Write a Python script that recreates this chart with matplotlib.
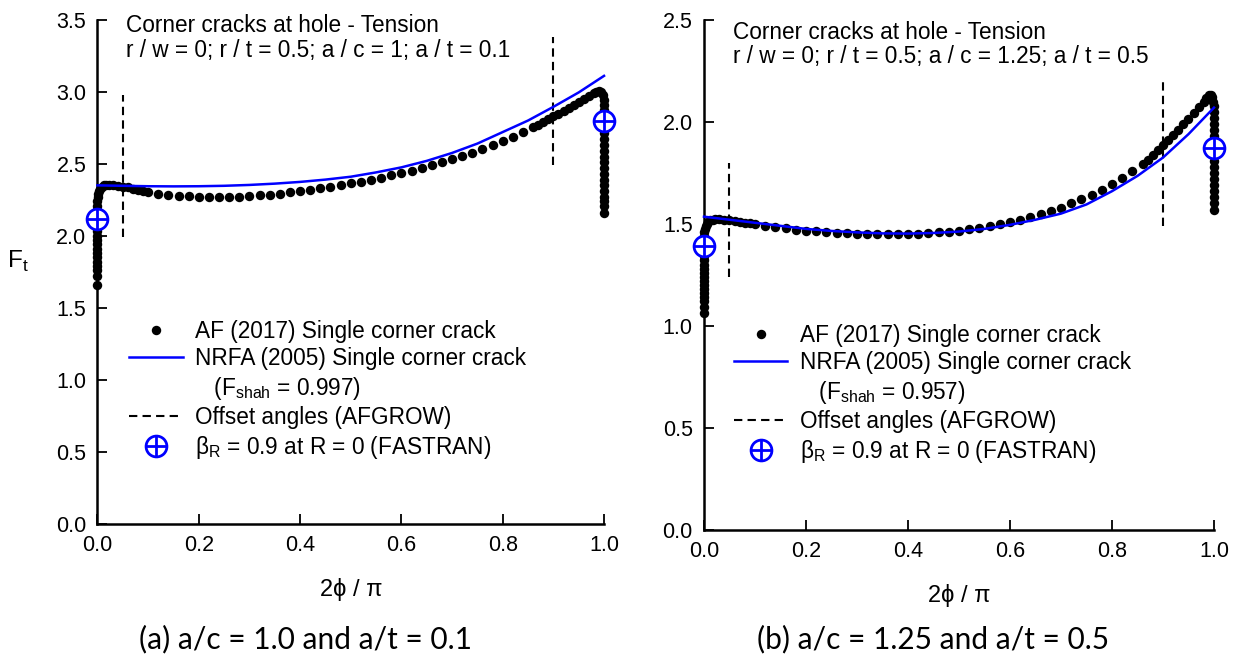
import matplotlib
matplotlib.use("Agg")
import matplotlib.pyplot as plt
from matplotlib.lines import Line2D
from matplotlib.legend_handler import HandlerTuple
from matplotlib.ticker import FormatStrFormatter

plt.rcParams["font.family"] = ["Liberation Sans", "DejaVu Sans"]
plt.rcParams["mathtext.fontset"] = "custom"
plt.rcParams["mathtext.rm"] = "Liberation Sans"

# ---------------- panel (a): a/c = 1.0, a/t = 0.1 ----------------
af_x_a = [0, 0, 0, 0, 0, 0, 0, 0, 0, 0, 0, 0, 0, 0, 0, 0, 0, 0, 0,
          0.001, 0.002, 0.003, 0.005, 0.008, 0.012, 0.017, 0.022, 0.03, 0.04,
          0.05, 0.06, 0.07, 0.08, 0.09, 0.10,
          0.12, 0.14, 0.16, 0.18, 0.20, 0.22, 0.24, 0.26, 0.28, 0.30,
          0.32, 0.34, 0.36, 0.38, 0.40, 0.42, 0.44, 0.46, 0.48, 0.50,
          0.52, 0.54, 0.56, 0.58, 0.60, 0.62, 0.64, 0.66, 0.68, 0.70,
          0.72, 0.74, 0.76, 0.78, 0.80, 0.82, 0.84, 0.86,
          0.87, 0.88, 0.89, 0.90, 0.91, 0.92, 0.93, 0.94, 0.95, 0.96, 0.97, 0.98,
          0.985, 0.99, 0.994, 0.997, 0.999,
          1, 1, 1, 1, 1, 1, 1, 1, 1, 1, 1, 1, 1, 1, 1, 1, 1, 1, 1, 1]
af_y_a = [1.66, 1.72, 1.76, 1.79, 1.82, 1.85, 1.88, 1.91, 1.94, 1.97, 2.00,
          2.03, 2.06, 2.09, 2.12, 2.15, 2.18, 2.21, 2.24,
          2.27, 2.29, 2.31, 2.325, 2.34, 2.35, 2.355, 2.355, 2.352, 2.348,
          2.342, 2.336, 2.328, 2.32, 2.312, 2.305,
          2.293, 2.285, 2.279, 2.274, 2.271, 2.269, 2.268, 2.269, 2.271, 2.275,
          2.280, 2.286, 2.293, 2.301, 2.310, 2.319, 2.329, 2.340, 2.351, 2.363,
          2.376, 2.390, 2.404, 2.419, 2.435, 2.452, 2.470, 2.489, 2.509, 2.530,
          2.552, 2.576, 2.601, 2.628, 2.656, 2.686, 2.718, 2.752,
          2.770, 2.789, 2.808, 2.828, 2.848, 2.868, 2.889, 2.910, 2.931, 2.952, 2.973, 2.992,
          2.999, 3.002, 2.995, 2.975, 2.945,
          2.91, 2.87, 2.83, 2.79, 2.75, 2.71, 2.67, 2.63, 2.59, 2.55,
          2.51, 2.47, 2.43, 2.39, 2.35, 2.31, 2.27, 2.24, 2.21, 2.16]

nrfa_x = [0, 0.05, 0.1, 0.15, 0.2, 0.25, 0.3, 0.35, 0.4, 0.45, 0.5,
          0.55, 0.6, 0.65, 0.7, 0.75, 0.8, 0.85, 0.9, 0.95, 1.0]
nrfa_y_a = [2.35, 2.347, 2.344, 2.343, 2.344, 2.347, 2.353, 2.362, 2.374, 2.39, 2.41,
            2.44, 2.475, 2.52, 2.575, 2.64, 2.72, 2.80, 2.895, 2.995, 3.11]

offset_x = [0.05, 0.9]
offset_lo_a = [1.99, 2.49]
offset_hi_a = [2.98, 3.38]

fastran_x = [0.0, 1.0]
fastran_y_a = [2.12, 2.80]

# ---------------- panel (b): a/c = 1.25, a/t = 0.5 ----------------
af_x_b = [0, 0, 0, 0, 0, 0, 0, 0, 0, 0, 0, 0, 0, 0, 0, 0, 0, 0, 0,
          0.001, 0.002, 0.003, 0.005, 0.008, 0.012, 0.017, 0.022, 0.03, 0.04,
          0.05, 0.06, 0.07, 0.08, 0.09, 0.10,
          0.12, 0.14, 0.16, 0.18, 0.20, 0.22, 0.24, 0.26, 0.28, 0.30,
          0.32, 0.34, 0.36, 0.38, 0.40, 0.42, 0.44, 0.46, 0.48, 0.50,
          0.52, 0.54, 0.56, 0.58, 0.60, 0.62, 0.64, 0.66, 0.68, 0.70,
          0.72, 0.74, 0.76, 0.78, 0.80, 0.82, 0.84, 0.86,
          0.87, 0.88, 0.89, 0.90, 0.91, 0.92, 0.93, 0.94, 0.95, 0.96, 0.97, 0.98,
          0.985, 0.99, 0.994, 0.997, 0.999,
          1, 1, 1, 1, 1, 1, 1, 1, 1, 1, 1, 1, 1, 1, 1, 1, 1, 1]
af_y_b = [1.06, 1.09, 1.12, 1.14, 1.16, 1.18, 1.20, 1.22, 1.24, 1.26,
          1.28, 1.30, 1.32, 1.34, 1.36, 1.38, 1.40, 1.42, 1.44,
          1.46, 1.475, 1.49, 1.50, 1.51, 1.517, 1.521, 1.523, 1.523, 1.521,
          1.518, 1.514, 1.510, 1.506, 1.502, 1.498,
          1.490, 1.483, 1.477, 1.472, 1.467, 1.463, 1.459, 1.456, 1.453, 1.451,
          1.450, 1.449, 1.449, 1.449, 1.450, 1.452, 1.455, 1.458, 1.462, 1.467,
          1.474, 1.481, 1.489, 1.498, 1.508, 1.520, 1.533, 1.547, 1.562, 1.580,
          1.600, 1.620, 1.643, 1.668, 1.695, 1.725, 1.760, 1.795,
          1.815, 1.84, 1.86, 1.885, 1.91, 1.935, 1.96, 1.99, 2.015, 2.045, 2.075, 2.10,
          2.115, 2.13, 2.13, 2.12, 2.10,
          2.08, 2.05, 2.02, 1.99, 1.96, 1.93, 1.90, 1.87, 1.84, 1.81,
          1.78, 1.75, 1.72, 1.69, 1.66, 1.63, 1.60, 1.57]

nrfa_y_b = [1.535, 1.52, 1.505, 1.49, 1.475, 1.465, 1.458, 1.453, 1.452, 1.455, 1.462,
            1.475, 1.495, 1.52, 1.55, 1.595, 1.66, 1.735, 1.825, 1.94, 2.07]

offset_lo_b = [1.24, 1.49]
offset_hi_b = [1.80, 2.20]

fastran_y_b = [1.39, 1.87]

FS = 16.3
TICK_FS = 15.5
BLUE = "#0000ff"
DASH = (0, (4, 2.5))

fig = plt.figure(figsize=(12.37, 6.6), dpi=100)
ax_a = fig.add_axes([0.0788, 0.2061, 0.4095, 0.7641])
ax_b = fig.add_axes([0.5691, 0.1977, 0.4123, 0.7720])


def draw_panel(ax, af_x, af_y, nr_y, off_lo, off_hi, fast_y, ytop,
               line1, line2, fshah, txt_pos, leg_pos):
    ax.plot(af_x, af_y, "o", color="black", ms=6.8, mec="none",
            clip_on=False, zorder=3)
    ax.plot(nrfa_x, nr_y, "-", color=BLUE, lw=1.8, clip_on=False, zorder=4)
    ax.vlines(offset_x, off_lo, off_hi, colors="black", linestyles=DASH,
              lw=1.5, zorder=2)
    ax.plot(fastran_x, fast_y, "o", ms=15, mfc="white", mec=BLUE, mew=2,
            ls="none", clip_on=False, zorder=5)
    ax.plot(fastran_x, fast_y, "+", ms=15, mec=BLUE, mew=2,
            ls="none", clip_on=False, zorder=6)

    ax.set_xlim(0, 1.0)
    ax.set_ylim(0, ytop)
    ax.set_xticks([0, 0.2, 0.4, 0.6, 0.8, 1.0])
    ax.set_yticks([v * 0.5 for v in range(int(ytop / 0.5) + 1)])
    ax.xaxis.set_major_formatter(FormatStrFormatter("%.1f"))
    ax.yaxis.set_major_formatter(FormatStrFormatter("%.1f"))
    ax.tick_params(direction="in", length=7, width=1.3, labelsize=TICK_FS, pad=8)
    for s in ["top", "right"]:
        ax.spines[s].set_visible(False)
    for s in ["left", "bottom"]:
        ax.spines[s].set_linewidth(1.8)
    ax.set_xlabel("2ϕ / π", fontsize=17, labelpad=16)

    ax.text(txt_pos[0], txt_pos[1], line1, transform=ax.transAxes,
            fontsize=FS, ha="left", va="baseline")
    ax.text(txt_pos[0], txt_pos[2], line2, transform=ax.transAxes,
            fontsize=FS, ha="left", va="baseline")

    h_af = Line2D([], [], marker="o", color="black", ms=6.8, mec="none", ls="none")
    h_nr = Line2D([], [], color=BLUE, lw=1.8)
    h_blank = Line2D([], [], ls="none")
    h_off = Line2D([], [], color="black", lw=1.5, ls=DASH)
    h_c = Line2D([], [], marker="o", ms=15, mfc="white", mec=BLUE, mew=2, ls="none")
    h_p = Line2D([], [], marker="+", ms=15, mec=BLUE, mew=2, ls="none")
    ax.legend([h_af, h_nr, h_blank, h_off, (h_c, h_p)],
              ["AF (2017) Single corner crack",
               "NRFA (2005) Single corner crack",
               "   (F$_\\mathregular{shah}$ = " + fshah + ")",
               "Offset angles (AFGROW)",
               "β$_\\mathregular{R}$ = 0.9 at R = 0 (FASTRAN)"],
              handler_map={tuple: HandlerTuple(ndivide=1)},
              loc="upper left", bbox_to_anchor=leg_pos, frameon=False,
              fontsize=FS, handlelength=2.35, handletextpad=0.55,
              labelspacing=0.2, borderpad=0, borderaxespad=0, numpoints=1)


draw_panel(ax_a, af_x_a, af_y_a, nrfa_y_a, offset_lo_a, offset_hi_a,
           fastran_y_a, 3.5,
           "Corner cracks at hole - Tension",
           "r / w = 0; r / t = 0.5; a / c = 1; a / t = 0.1",
           "0.997", (0.056, 0.976, 0.9266), (0.063, 0.405))
draw_panel(ax_b, af_x_b, af_y_b, nrfa_y_b, offset_lo_b, offset_hi_b,
           fastran_y_b, 2.5,
           "Corner cracks at hole - Tension",
           "r / w = 0; r / t = 0.5; a / c = 1.25; a / t = 0.5",
           "0.957", (0.057, 0.962, 0.915), (0.059, 0.404))

ax_a.set_ylabel("F$_\\mathregular{t}$", fontsize=17.5, rotation=0,
                ha="center", va="center")
ax_a.yaxis.set_label_coords(-0.158, 0.52)

fig.text(0.247, 0.031, "(a) a/c = 1.0 and a/t = 0.1", family=["Lato", "DejaVu Sans"],
         fontsize=21.5, ha="center", va="center")
fig.text(0.754, 0.031, "(b) a/c = 1.25 and a/t = 0.5", family=["Lato", "DejaVu Sans"],
         fontsize=21.5, ha="center", va="center")

fig.savefig("out.png", dpi=100)
